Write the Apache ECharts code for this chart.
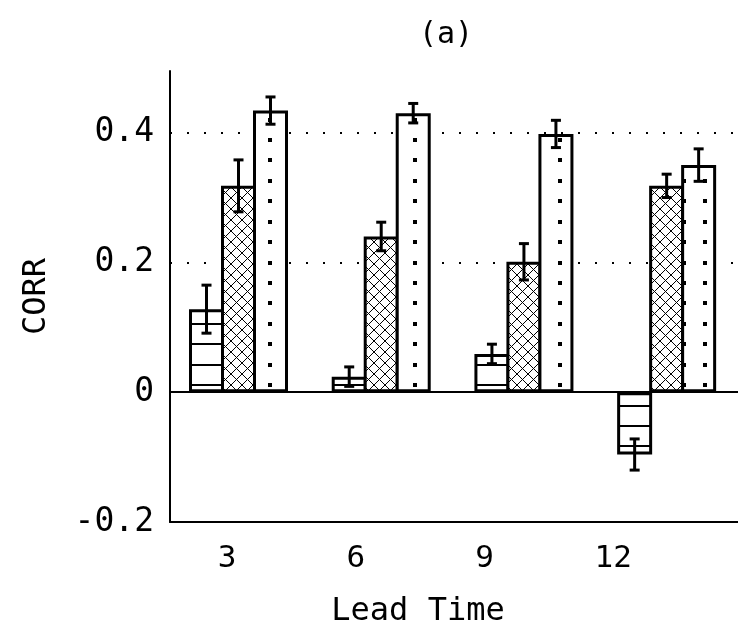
<!DOCTYPE html>
<html>
<head>
<meta charset="utf-8">
<script src="https://cdn.jsdelivr.net/npm/echarts@6/dist/echarts.min.js"></script>
<style>
  html, body { margin: 0; padding: 0; background: #fff; }
  #chart { width: 738px; height: 630px; }
</style>
</head>
<body>
<div id="chart"></div>
<script>
// Lead times (months) and correlation skill for three methods, with error bars
const leadTimes = [3, 6, 9, 12];
const corrLines = [0.128, 0.024, 0.059, -0.096];
const errLines  = [0.037, 0.015, 0.015, 0.024];
const corrHatch = [0.318, 0.240, 0.201, 0.318];
const errHatch  = [0.040, 0.022, 0.028, 0.018];
const corrDots  = [0.434, 0.430, 0.398, 0.350];
const errDots   = [0.021, 0.015, 0.021, 0.025];
const yTicks = [-0.2, 0, 0.2, 0.4];
const gridLevels = [0.2, 0.4];

const FONT = "'DejaVu Sans Mono', 'Liberation Mono', monospace";
const BAR_STEP = 32;      // centre-to-centre distance of bars in a group
const BORDER = 3;         // outline width, shared by neighbouring bars
const BAR_W = BAR_STEP + BORDER;

// Pattern tiles for the bar fills
function makeTile(w, h, draw) {
  const c = document.createElement('canvas');
  c.width = w; c.height = h;
  const g = c.getContext('2d');
  g.fillStyle = '#fff';
  g.fillRect(0, 0, w, h);
  g.fillStyle = '#000';
  g.strokeStyle = '#000';
  draw(g, w, h);
  return { image: c, repeat: 'repeat' };
}
const STEP_Y = 143 / 7;
const STEP_X = 145 / 7;

const linesFill = makeTile(16, 143, (g, w) => {
  for (let k = 0; k < 7; k++) {
    const y = Math.round(17.4 + k * STEP_Y);
    g.fillRect(0, y - 1, w, 2);
  }
});

const dotsFill = makeTile(145, 143, (g, w, h) => {
  for (let i = 0; i < 7; i++) {
    for (let j = 0; j < 7; j++) {
      const cx = 0.7 + i * STEP_X, cy = 17.4 + j * STEP_Y;
      for (const ox of [-w, 0, w]) {
        for (const oy of [-h, 0, h]) {
          g.fillRect(Math.round(cx - 2 + ox), Math.round(cy - 2 + oy), 4, 4);
        }
      }
    }
  }
});

const hatchFill = makeTile(143, 143, (g, w, h) => {
  const p = w / 13;
  g.lineWidth = 1;
  g.beginPath();
  for (let k = -13; k <= 26; k++) {
    g.moveTo(k * p, 0); g.lineTo(k * p + w, h);
    g.moveTo(k * p, 0); g.lineTo(k * p - w, h);
  }
  g.stroke();
});

function barSeries(name, values, fill) {
  return {
    name, type: 'bar', xAxisIndex: 0, yAxisIndex: 0,
    barWidth: BAR_W, barGap: (-BORDER / BAR_W * 100).toFixed(3) + '%',
    data: values.map((v, i) => [i, v]),
    itemStyle: { color: fill, borderColor: '#000', borderWidth: BORDER },
    emphasis: { disabled: true },
    silent: true, z: 2
  };
}

const errData = [];
[[corrLines, errLines], [corrHatch, errHatch], [corrDots, errDots]].forEach(([vals, errs], k) => {
  vals.forEach((v, i) => errData.push([i, v, errs[i], k]));
});

const chart = echarts.init(document.getElementById('chart'), null, { renderer: 'canvas' });

chart.setOption({
  animation: false,
  backgroundColor: '#fff',
  grid: { left: 170, right: 0, top: 71, bottom: 108, outerBoundsMode: 'none', containLabel: false },
  xAxis: [
    {
      // group positions; its line marks the zero level
      type: 'value', min: -0.48, max: 3.5, position: 'bottom',
      axisLine: { show: true, onZero: true, lineStyle: { color: '#000', width: 2 } },
      axisTick: { show: false }, axisLabel: { show: false }, splitLine: { show: false }
    },
    {
      // lead-time labels along the bottom frame
      type: 'value', min: 1.67, max: 14.91, position: 'bottom',
      axisLine: { show: true, onZero: false, lineStyle: { color: '#000', width: 2 } },
      axisTick: { show: false }, splitLine: { show: false },
      axisLabel: {
        customValues: leadTimes, formatter: v => String(v),
        fontFamily: FONT, fontSize: 31, color: '#000', margin: 21
      }
    }
  ],
  yAxis: {
    type: 'value', min: -0.2, max: 0.495,
    axisLine: { show: true, onZero: false, lineStyle: { color: '#000', width: 2 } },
    axisTick: { show: false, customValues: gridLevels },
    splitLine: { show: true, lineStyle: { color: '#000', width: 2, type: [2, 15] } },
    axisLabel: {
      customValues: yTicks,
      formatter: v => (v === 0 ? '0' : v.toFixed(1)),
      fontFamily: FONT, fontSize: 33, color: '#000', margin: 16
    },
    name: 'CORR', nameLocation: 'middle', nameGap: 117,
    nameTextStyle: { fontFamily: FONT, fontSize: 32, color: '#000' }
  },
  graphic: [
    { type: 'text', x: 446, y: 35, silent: true,
      style: { text: '(a)', align: 'center', verticalAlign: 'middle', font: `30px ${FONT}`, fill: '#000' } },
    { type: 'text', x: 418, y: 612, silent: true,
      style: { text: 'Lead Time', align: 'center', verticalAlign: 'middle', font: `32px ${FONT}`, fill: '#000' } }
  ],
  series: [
    barSeries('lines', corrLines, linesFill),
    barSeries('hatch', corrHatch, hatchFill),
    barSeries('dots', corrDots, dotsFill),
    {
      type: 'custom', xAxisIndex: 0, yAxisIndex: 0, z: 4, silent: true,
      data: errData,
      encode: { x: 0, y: 1 },
      renderItem: (params, api) => {
        const i = api.value(0), v = api.value(1), e = api.value(2), k = api.value(3);
        const hi = api.coord([i, v + e]);
        const lo = api.coord([i, v - e]);
        const x = hi[0] + (k - 1) * BAR_STEP;
        const half = 5;
        const style = { stroke: '#000', lineWidth: 3, fill: null };
        return {
          type: 'group',
          children: [
            { type: 'line', shape: { x1: x, y1: hi[1], x2: x, y2: lo[1] }, style },
            { type: 'line', shape: { x1: x - half, y1: hi[1], x2: x + half, y2: hi[1] }, style },
            { type: 'line', shape: { x1: x - half, y1: lo[1], x2: x + half, y2: lo[1] }, style }
          ]
        };
      }
    }
  ]
});
</script>
</body>
</html>
